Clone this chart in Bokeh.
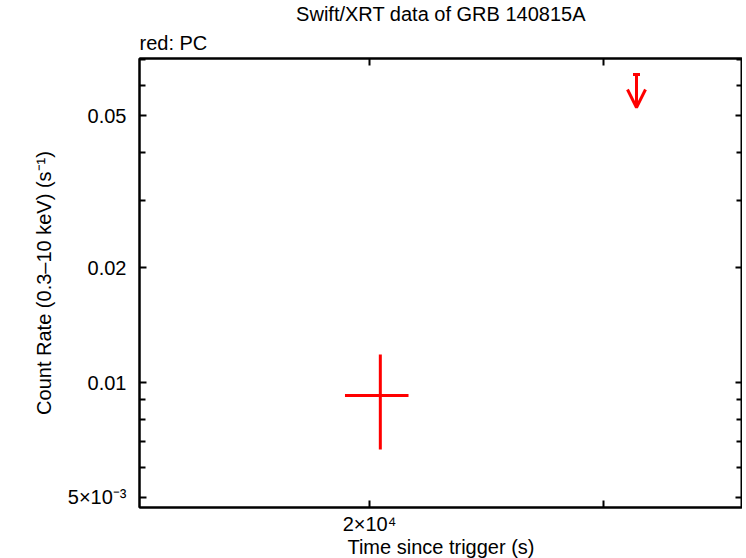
from bokeh.plotting import figure
from bokeh.models import (FixedTicker, LogAxis, CustomJSTickFormatter, Title, Arrow,
                          OpenHead, Range1d, ColumnDataSource)
from bokeh.embed import file_html
from bokeh.resources import INLINE

# ---- data ----
t = [20380.0]
t_lo = [19170.0]
t_hi = [21400.0]
rate = [0.00925]
rate_lo = [0.00668]
rate_hi = [0.01184]

ul_t = [31760.0]
ul_rate = [0.0640]

x_ticks = [20000, 30000]
x_tick_labels = ["2×10⁴", ""]
y_ticks = [0.005, 0.01, 0.02, 0.05]
y_tick_labels = ["5×10⁻³", "0.01", "0.02", "0.05"]
y_minor = [0.006, 0.007, 0.008, 0.009, 0.03, 0.04, 0.06, 0.07]

title_text = "Swift/XRT data of GRB 140815A"
sub_text = "red: PC"
x_label = "Time since trigger (s)"
y_label = "Count Rate (0.3–10 keV) (s⁻¹)"

FONT = "Liberation Sans"
RED = "#ff0000"

p = figure(x_axis_type="log", y_axis_type="log",
           x_range=Range1d(13430, 38160), y_range=Range1d(0.004707, 0.07051),
           frame_width=603, frame_height=449,
           min_border_left=139, min_border_top=58, min_border_right=0, min_border_bottom=0,
           output_backend="svg", toolbar_location=None,
           background_fill_color="white", border_fill_color="white")
p.grid.visible = False
p.outline_line_color = "black"
p.outline_line_width = 2


def fmt(tv, tl):
    return CustomJSTickFormatter(args=dict(tv=tv, tl=tl), code="""
        for (let i = 0; i < tv.length; i++) {
            if (Math.abs(tick / tv[i] - 1) < 1e-6) return tl[i];
        }
        return "";
    """)


def style(ax, show_labels):
    ax.axis_line_color = "black"
    ax.axis_line_width = 2
    ax.major_tick_line_width = 2
    ax.minor_tick_line_width = 2
    ax.major_tick_in = 7
    ax.major_tick_out = 0
    ax.minor_tick_in = 6
    ax.minor_tick_out = 0
    ax.major_label_text_font = FONT
    ax.major_label_text_font_size = "20px"
    ax.major_label_text_color = "black"
    ax.axis_label_text_font = FONT
    ax.axis_label_text_font_size = "20px"
    ax.axis_label_text_font_style = "normal"
    ax.axis_label_text_color = "black"
    if not show_labels:
        ax.major_label_standoff = 0


xt = FixedTicker(ticks=x_ticks, minor_ticks=[])
yt = FixedTicker(ticks=y_ticks, minor_ticks=y_minor)

p.xaxis.ticker = xt
p.xaxis.formatter = fmt(x_ticks, x_tick_labels)
p.xaxis.axis_label = x_label
style(p.xaxis[0], True)
p.xaxis.major_label_standoff = 5
p.xaxis.axis_label_standoff = -2

p.yaxis.ticker = yt
p.yaxis.formatter = fmt(y_ticks, y_tick_labels)
p.yaxis.axis_label = y_label
style(p.yaxis[0], True)
p.yaxis.major_label_standoff = 13
p.yaxis.axis_label_standoff = 10

empty_x = fmt(x_ticks, ["", ""])
empty_y = fmt(y_ticks, ["", "", "", ""])
top = LogAxis(ticker=xt, formatter=empty_x)
style(top, False)
right = LogAxis(ticker=yt, formatter=empty_y)
style(right, False)
p.add_layout(top, "above")
p.add_layout(right, "right")

# data point with error bars
src = ColumnDataSource(dict(t=t, t_lo=t_lo, t_hi=t_hi, rate=rate, rate_lo=rate_lo, rate_hi=rate_hi))
p.segment(x0="t_lo", y0="rate", x1="t_hi", y1="rate", source=src, line_color=RED, line_width=3)
p.segment(x0="t", y0="rate_lo", x1="t", y1="rate_hi", source=src, line_color=RED, line_width=3)

# upper limit
ul_end = [v * 0.82 for v in ul_rate]
usrc = ColumnDataSource(dict(x=ul_t, y=ul_rate, ye=ul_end))
p.add_layout(Arrow(source=usrc, x_start="x", y_start="y", x_end="x", y_end="ye",
                   line_color=RED, line_width=3,
                   end=OpenHead(size=18, line_color=RED, line_width=3)))
p.scatter(x="x", y="y", source=usrc, marker="dash", size=7, line_color=RED, line_width=3)

# titles (first added sits closest to the frame)
p.add_layout(Title(text=sub_text, align="left", text_font=FONT, text_font_size="20px",
                   text_font_style="normal", text_color="black", standoff=10), "above")
p.add_layout(Title(text=title_text, align="center", text_font=FONT, text_font_size="20px",
                   text_font_style="normal", text_color="black", standoff=0), "above")

open("out.html", "w").write(file_html(p, INLINE))
